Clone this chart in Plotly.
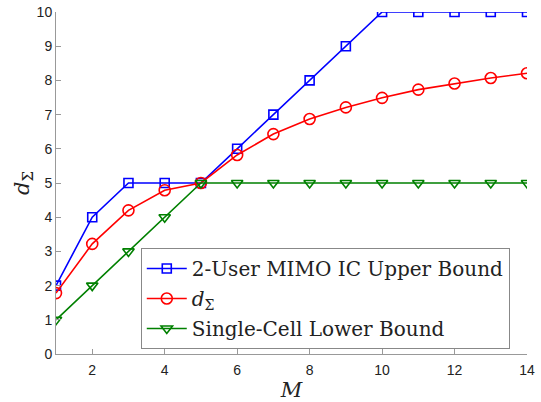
import plotly.graph_objects as go

M = list(range(1, 15))
upper = [2, 4, 5, 5, 5, 6, 7, 8, 9, 10, 10, 10, 10, 10]
dsum = [1.78, 3.22, 4.2, 4.79, 5.0, 5.82, 6.43, 6.87, 7.21, 7.49, 7.73, 7.91, 8.07, 8.21]
lower = [1, 2, 3, 4, 5, 5, 5, 5, 5, 5, 5, 5, 5, 5]

names = ["2-User MIMO IC Upper Bound", "<i>d</i><sub>Σ</sub>", "Single-Cell Lower Bound"]

fig = go.Figure()
fig.add_trace(go.Scatter(x=M, y=upper, mode="lines+markers", name=names[0], legendgroup="a",
                         line=dict(color="#0000ff", width=1.6),
                         marker=dict(symbol="square-open", size=9, color="#0000ff", line=dict(width=1.6))))
fig.add_trace(go.Scatter(x=M, y=dsum, mode="lines+markers", name=names[1], legendgroup="b",
                         line=dict(color="#ff0000", width=1.6),
                         marker=dict(symbol="circle-open", size=11, color="#ff0000", line=dict(width=1.6))))
fig.add_trace(go.Scatter(x=M, y=lower, mode="lines+markers", name=names[2], legendgroup="c",
                         line=dict(color="#008000", width=1.6),
                         marker=dict(symbol="triangle-down-open", size=10, color="#008000", line=dict(width=1.6))))

axis_common = dict(showline=True, linecolor="#999999", linewidth=1, mirror=False, automargin=False,
                   ticks="inside", ticklen=5, tickcolor="#999999", showgrid=False, zeroline=False,
                   tickfont=dict(family="Liberation Sans, Arial", size=14, color="#222222"))

fig.update_layout(
    width=541, height=402,
    margin=dict(l=56, r=14, t=12, b=48),
    paper_bgcolor="white", plot_bgcolor="white",
    xaxis=dict(range=[1, 14], tickvals=[2, 4, 6, 8, 10, 12, 14], ticklabelstandoff=3, **axis_common,
               title=dict(text="<i>M</i>", font=dict(family="DejaVu Serif", size=21, color="#222222"), standoff=5)),
    yaxis=dict(range=[0, 10], dtick=1, **axis_common,
               title=dict(text="<i>d</i><sub>Σ</sub>", font=dict(family="DejaVu Serif", size=21, color="#222222"), standoff=1)),
    legend=dict(x=0.18, y=0.31, xanchor="left", yanchor="top",
                bgcolor="white", bordercolor="#888888", borderwidth=1,
                traceorder="grouped", tracegroupgap=1, itemwidth=40,
                font=dict(family="DejaVu Serif", size=20, color="#222222")),
    showlegend=True,
)

fig.write_html("out.html", config={"displayModeBar": False},
               post_script="document.body.style.margin='0';document.body.style.padding='0';")
